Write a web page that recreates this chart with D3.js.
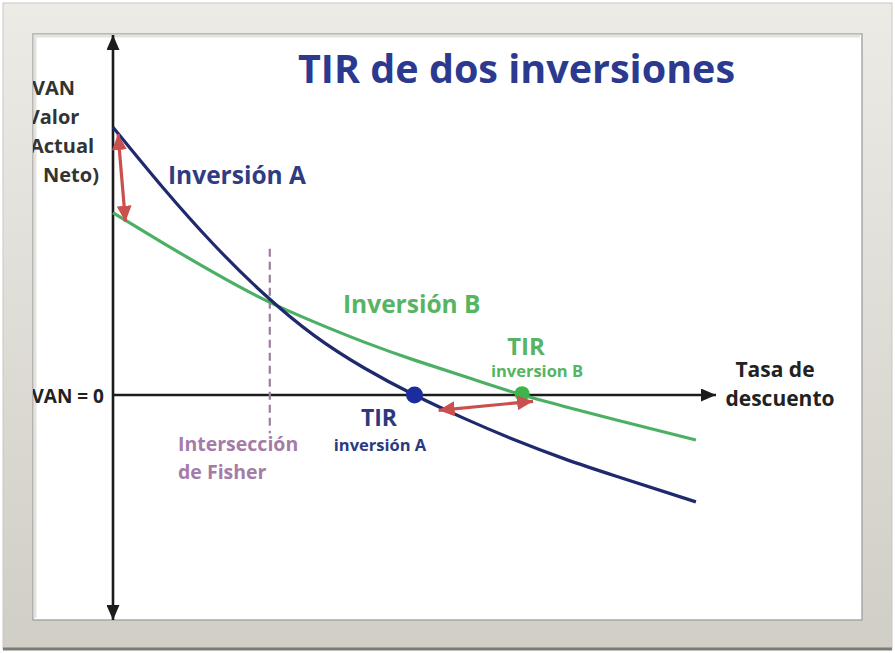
<!DOCTYPE html>
<html>
<head>
<meta charset="utf-8">
<script src="https://cdn.jsdelivr.net/npm/d3@7"></script>
<style>
  body { margin: 0; background: #fff; }
  svg { display: block; font-family: "Open Sans", Lato, sans-serif; font-weight: bold; }
</style>
</head>
<body>
<div id="chart"></div>
<script>
// discount rate (%) and net present value of each investment
const rates = [0, 2.5, 5, 7.5, 10, 12.5, 15, 17.5, 20, 22.5, 25, 29];
const vanA = [119, 92, 67, 45, 26.5, 12, 0, -10.5, -20, -28.5, -36, -47.5];
const vanB = [81, 67.5, 54.5, 42.5, 32.5, 23.5, 15.5, 8.2, 1, -5.2, -11, -20];

// internal rates of return and the Fisher crossing
const tirA = 15;
const tirB = 20.35;
const fisherRate = 7.8;
const fisherSpan = [65, -17];

// red double arrows (rate, van) pairs
const gapStart = [[0.25, 116], [0.62, 77]];
const gapTir = [[16.2, -6.8], [20.9, -2.8]];

document.addEventListener('DOMContentLoaded', function() {
    const W = 895, H = 653;
    const svg = d3.select('#chart').append('svg')
        .attr('width', W)
        .attr('height', H);

    const defs = svg.append('defs');

    const grad = defs.append('linearGradient')
        .attr('id', 'frameGrad')
        .attr('x1', 0).attr('y1', 0).attr('x2', 0).attr('y2', 1);
    grad.append('stop').attr('offset', '0%').attr('stop-color', '#ecebe6');
    grad.append('stop').attr('offset', '100%').attr('stop-color', '#d1cec6');

    defs.append('clipPath').attr('id', 'panelClip')
        .append('rect').attr('x', 33).attr('y', 34).attr('width', 829).attr('height', 586);

    function marker(id, color, len, wid) {
        defs.append('marker')
            .attr('id', id)
            .attr('markerUnits', 'userSpaceOnUse')
            .attr('viewBox', `0 ${-wid / 2} ${len} ${wid}`)
            .attr('refX', len)
            .attr('refY', 0)
            .attr('markerWidth', len)
            .attr('markerHeight', wid)
            .attr('orient', 'auto-start-reverse')
            .append('path')
            .attr('d', `M0,${-wid / 2}L${len},0L0,${wid / 2}Z`)
            .attr('fill', color);
    }
    marker('axisHead', '#1c1c1c', 15, 13);
    marker('redHead', '#c9504e', 16, 15);

    // -------------------------------------------------- frame --------------------------------------------------
    svg.append('rect')
        .attr('x', 3).attr('y', 3).attr('width', 889).attr('height', 646)
        .attr('fill', 'url(#frameGrad)')
        .attr('stroke', '#c9c7c0').attr('stroke-width', 1);
    svg.append('line')
        .attr('x1', 3).attr('x2', 892).attr('y1', 649).attr('y2', 649)
        .attr('stroke', '#7d7b77').attr('stroke-width', 3);
    svg.append('rect')
        .attr('x', 33).attr('y', 34).attr('width', 829).attr('height', 586)
        .attr('fill', '#fff')
        .attr('stroke', '#a9a8a4').attr('stroke-width', 1.5);
    svg.append('path')
        .attr('d', 'M35,618L35,36L860,36')
        .attr('fill', 'none')
        .attr('stroke', '#e2e2e0').attr('stroke-width', 3);

    // -------------------------------------------------- scales --------------------------------------------------
    const x = d3.scaleLinear().domain([0, 30]).range([113, 716]);
    const y = d3.scaleLinear().domain([-100, 160]).range([620, 35]);

    const plot = svg.append('g').attr('clip-path', 'url(#panelClip)');

    // axes
    plot.append('line')
        .attr('x1', x(0)).attr('x2', x(30))
        .attr('y1', y(0)).attr('y2', y(0))
        .attr('stroke', '#1c1c1c').attr('stroke-width', 2.6)
        .attr('marker-end', 'url(#axisHead)');
    plot.append('line')
        .attr('x1', x(0)).attr('x2', x(0))
        .attr('y1', y(-100)).attr('y2', y(160))
        .attr('stroke', '#1c1c1c').attr('stroke-width', 2.6)
        .attr('marker-start', 'url(#axisHead)')
        .attr('marker-end', 'url(#axisHead)');

    // Fisher line
    plot.append('line')
        .attr('x1', x(fisherRate)).attr('x2', x(fisherRate))
        .attr('y1', y(fisherSpan[0])).attr('y2', y(fisherSpan[1]))
        .attr('stroke', '#9c7f9e').attr('stroke-width', 2.2)
        .attr('stroke-dasharray', '8,5');

    // curves
    const line = d3.line()
        .x(d => x(d[0]))
        .y(d => y(d[1]))
        .curve(d3.curveNatural);

    plot.append('path')
        .datum(rates.map((r, i) => [r, vanB[i]]))
        .attr('d', line)
        .attr('fill', 'none')
        .attr('stroke', '#4cb064')
        .attr('stroke-width', 3.2);
    plot.append('path')
        .datum(rates.map((r, i) => [r, vanA[i]]))
        .attr('d', line)
        .attr('fill', 'none')
        .attr('stroke', '#1f2a6e')
        .attr('stroke-width', 3.2);

    // TIR points
    plot.append('circle')
        .attr('cx', x(tirA)).attr('cy', y(0)).attr('r', 8.5)
        .attr('fill', '#1b2c9e');
    plot.append('circle')
        .attr('cx', x(tirB)).attr('cy', y(0.6)).attr('r', 7.5)
        .attr('fill', '#3db54c');

    // red arrows
    [gapStart, gapTir].forEach(pair => {
        plot.append('line')
            .attr('x1', x(pair[0][0])).attr('y1', y(pair[0][1]))
            .attr('x2', x(pair[1][0])).attr('y2', y(pair[1][1]))
            .attr('stroke', '#c9504e').attr('stroke-width', 3.2)
            .attr('marker-start', 'url(#redHead)')
            .attr('marker-end', 'url(#redHead)');
    });

    // -------------------------------------------------- labels --------------------------------------------------
    const labels = [
        {t: 'TIR de dos inversiones', x: 298, y: 83, s: 39.5, c: '#2b3a8e'},
        {t: 'VAN', x: 32, y: 95, s: 20, c: '#333'},
        {t: '(Valor', x: 20, y: 124, s: 20, c: '#333'},
        {t: 'Actual', x: 30, y: 153, s: 20, c: '#333'},
        {t: 'Neto)', x: 43, y: 182, s: 20, c: '#333'},
        {t: 'VAN = 0', x: 104, y: 403, s: 19, c: '#222', a: 'end'},
        {t: 'Inversión A', x: 168, y: 184, s: 24.5, c: '#2f3c82'},
        {t: 'Inversión B', x: 343, y: 313, s: 24.5, c: '#56b463'},
        {t: 'TIR', x: 526, y: 355, s: 24, c: '#56b463', a: 'middle'},
        {t: 'inversion B', x: 537, y: 377, s: 16.5, c: '#56b463', a: 'middle'},
        {t: 'TIR', x: 379, y: 426, s: 23, c: '#2b3a80', a: 'middle'},
        {t: 'inversión A', x: 380, y: 451, s: 16.5, c: '#2b3a80', a: 'middle'},
        {t: 'Intersección', x: 178, y: 451, s: 19.5, c: '#a57ba8'},
        {t: 'de Fisher', x: 178, y: 479, s: 19.5, c: '#a57ba8'},
        {t: 'Tasa de', x: 775, y: 377, s: 21, c: '#222', a: 'middle'},
        {t: 'descuento', x: 780, y: 406, s: 21, c: '#222', a: 'middle'}
    ];

    plot.selectAll('text.lbl')
        .data(labels)
        .enter().append('text')
        .attr('class', 'lbl')
        .attr('x', d => d.x)
        .attr('y', d => d.y)
        .attr('font-size', d => d.s)
        .attr('fill', d => d.c)
        .attr('text-anchor', d => d.a || 'start')
        .text(d => d.t);
});
</script>
</body>
</html>
